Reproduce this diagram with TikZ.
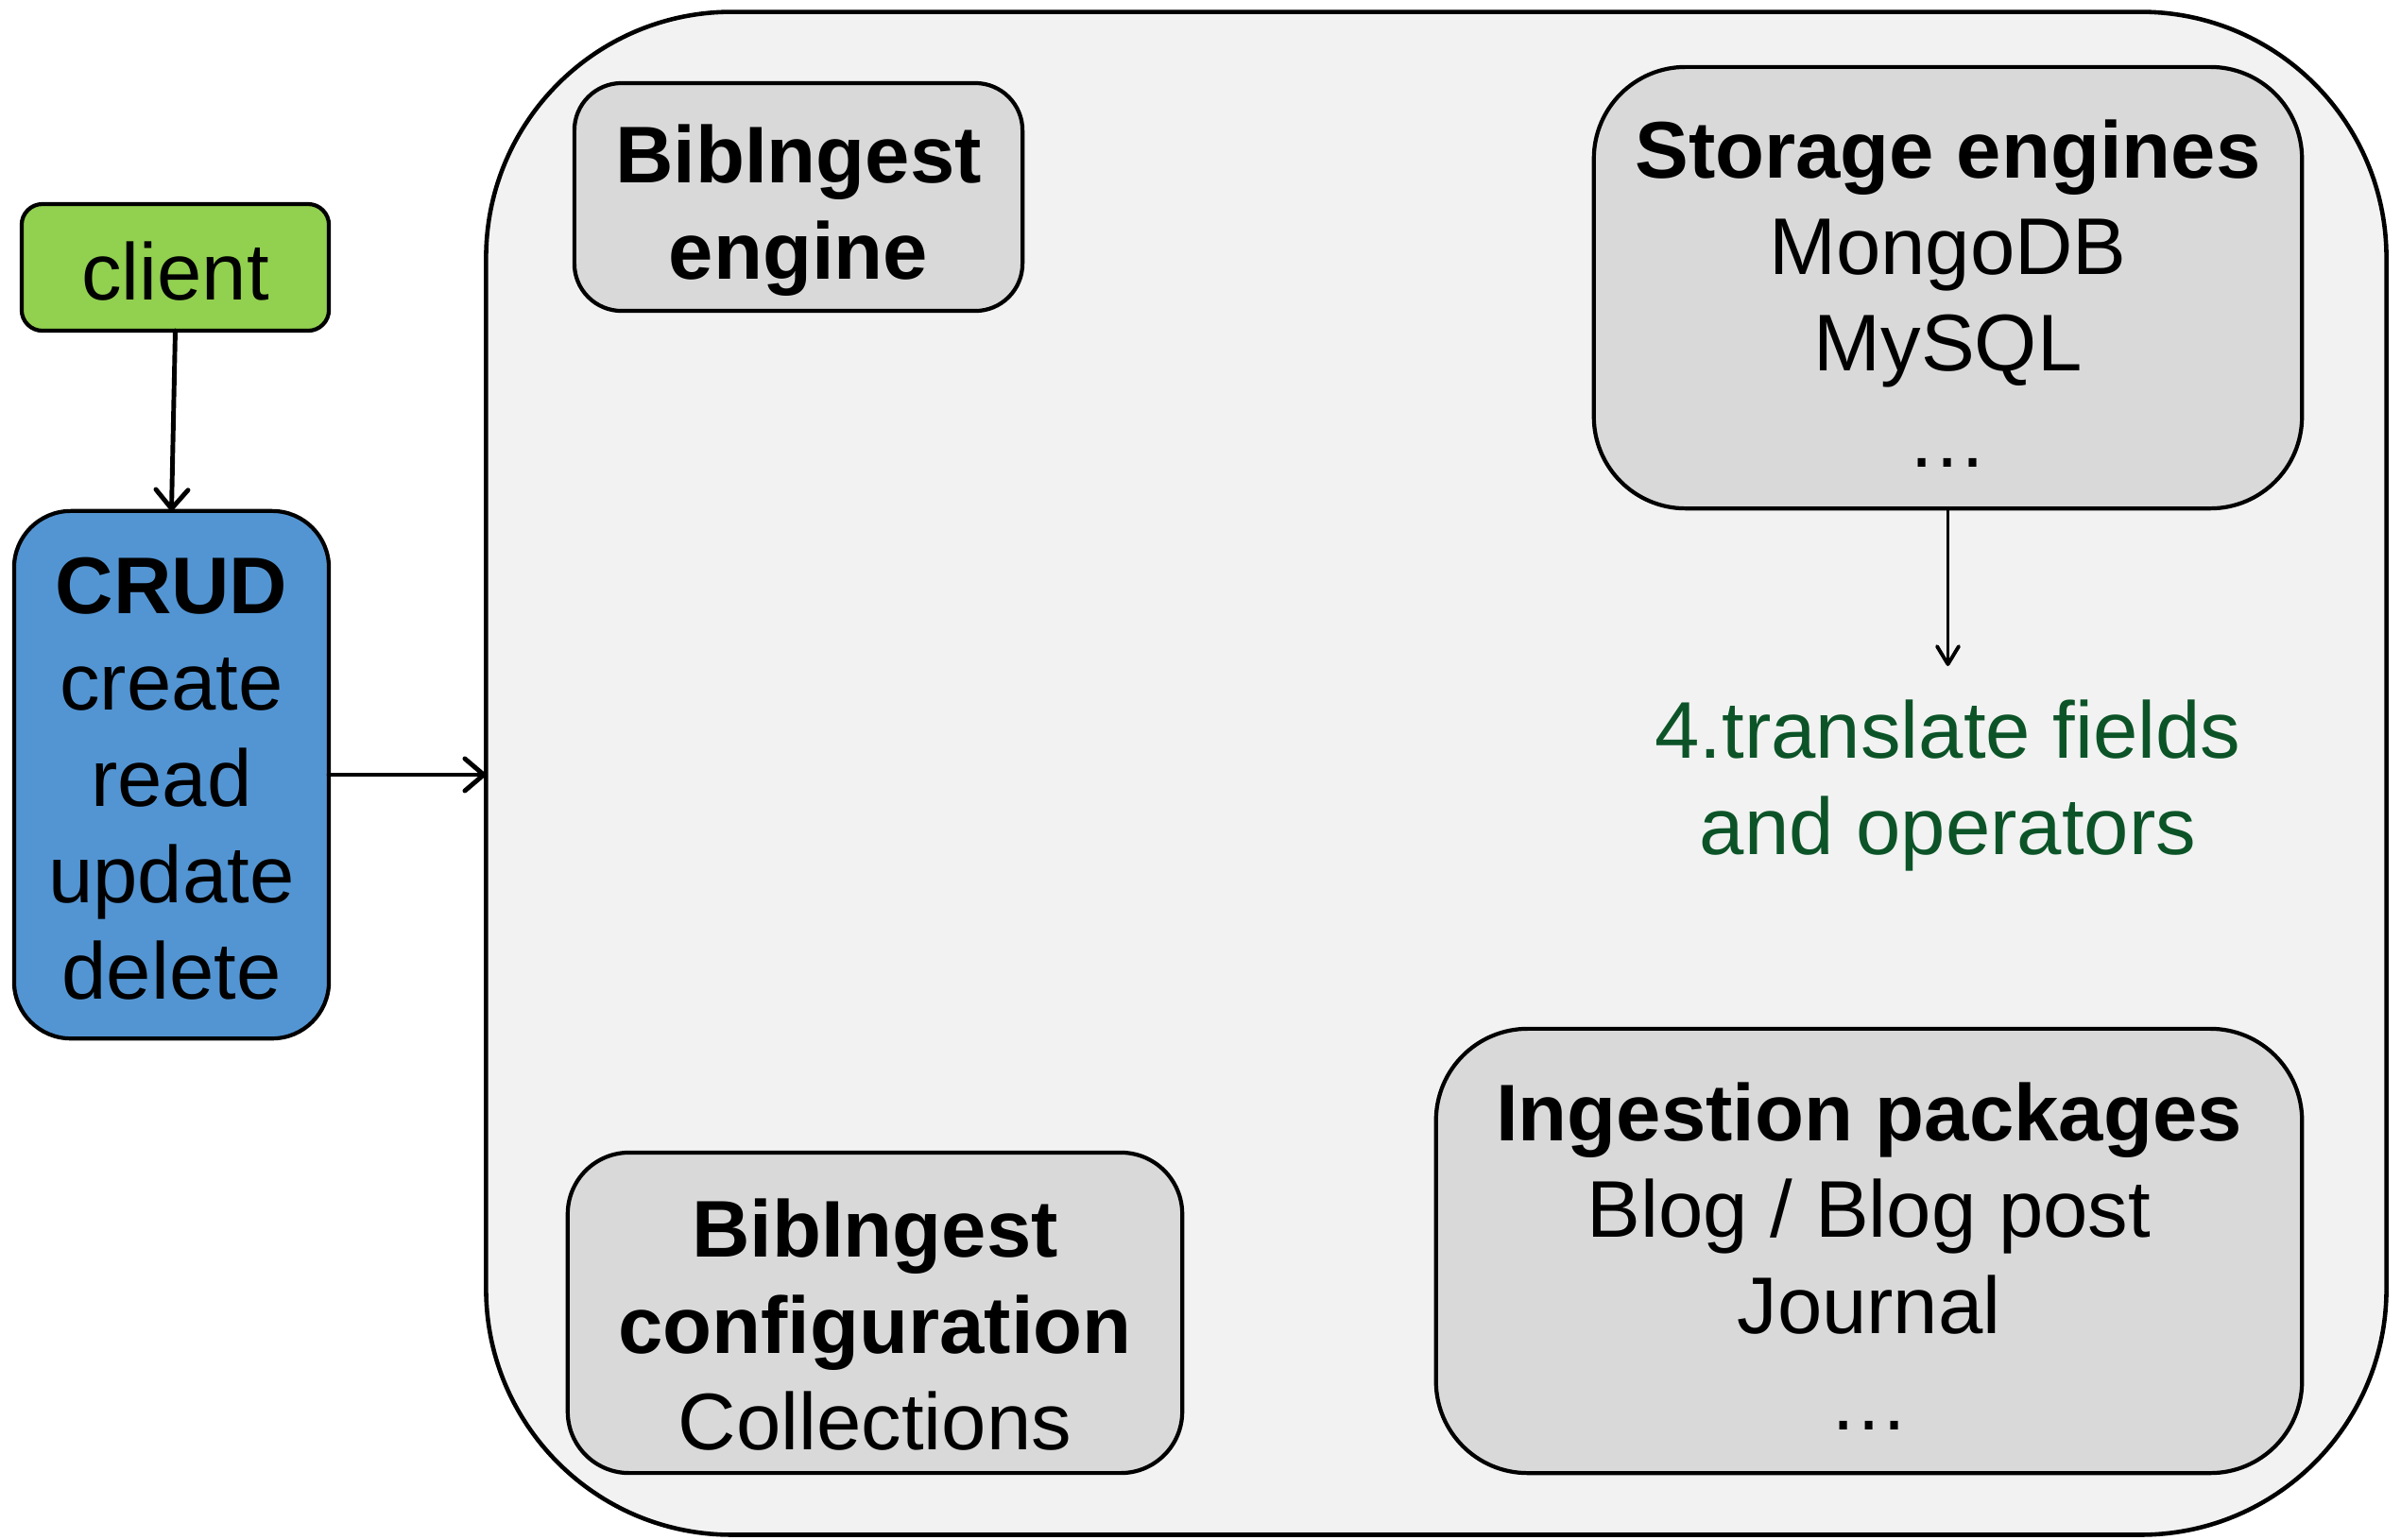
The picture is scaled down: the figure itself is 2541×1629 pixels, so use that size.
\documentclass[tikz,border=0pt]{standalone}
\usepackage{fontspec}
\setmainfont{Liberation Sans}
\usetikzlibrary{arrows.meta}
\definecolor{biggray}{HTML}{F2F2F2}
\definecolor{boxgray}{HTML}{D9D9D9}
\definecolor{clientgreen}{HTML}{92D050}
\definecolor{crudblue}{HTML}{5395D3}
\definecolor{txtgreen}{RGB}{12,84,40}
\begin{document}
\begin{tikzpicture}[x=0.01cm,y=-0.01cm,
  box/.style={draw=black, line width=1.2pt, rectangle, inner sep=0pt, outer sep=0pt},
  txt/.style={inner sep=0pt, outer sep=0pt, align=center, font=\fontsize{24.2pt}{29pt}\selectfont},
  conn/.style={line width=1.4pt, line cap=round, -{Straight Barb[length=0.2cm,width=0.34cm,line cap=round,line join=round]}},
  thinconn/.style={line width=1.1pt, line cap=round, -{Straight Barb[length=0.19cm,width=0.23cm,line cap=round,line join=round]}}
]
\useasboundingbox (0,0) rectangle (2541,1629);
% big container
\node[box, line width=1.3pt, fill=biggray, minimum width=20.10cm, minimum height=16.11cm, rounded corners=2.6cm] (sys) at (1520,818.5) {};
% client and CRUD
\node[box, fill=clientgreen, minimum width=3.25cm, minimum height=1.34cm, rounded corners=0.22cm] (client) at (185.5,283) {};
\node[txt] (clientt) at (185.5,287) {client};
\node[box, fill=crudblue, minimum width=3.33cm, minimum height=5.58cm, rounded corners=0.6cm] (crud) at (181.5,820) {};
\node[txt] (crudt) at (181.5,824) {\textbf{CRUD}\\create\\read\\update\\delete};
% inner boxes
\node[box, fill=boxgray, minimum width=4.74cm, minimum height=2.41cm, rounded corners=0.5cm] (engine) at (845,208.5) {};
\node[txt] (enginet) at (845,223) {\textbf{BibIngest}\\\textbf{engine}};
\node[box, fill=boxgray, minimum width=7.49cm, minimum height=4.67cm, rounded corners=0.97cm] (storage) at (2061.5,304.5) {};
\node[txt] (storaget) at (2061.5,311) {\textbf{Storage engines}\\MongoDB\\MySQL\\…};
\node[box, fill=boxgray, minimum width=9.16cm, minimum height=4.70cm, rounded corners=0.97cm] (ingest) at (1978,1324) {};
\node[txt] (ingestt) at (1978,1330) {\textbf{Ingestion packages}\\Blog / Blog post\\Journal\\…};
\node[box, fill=boxgray, minimum width=6.50cm, minimum height=3.39cm, rounded corners=0.65cm] (config) at (926,1389.5) {};
\node[txt] (configt) at (926,1402) {\textbf{BibIngest}\\\textbf{configuration}\\Collections};
% green label
\node[txt, text=txtgreen, anchor=north, inner ysep=0.36cm] (translate) at (2061.5,705) {4.translate fields\\and operators};
% connectors
\draw[conn] (client.south) -- (crud.north);
\draw[conn] (crud.east) -- (crud.east -| sys.west);
\draw[thinconn] (storage.south) -- (translate.north);
\end{tikzpicture}
\end{document}
